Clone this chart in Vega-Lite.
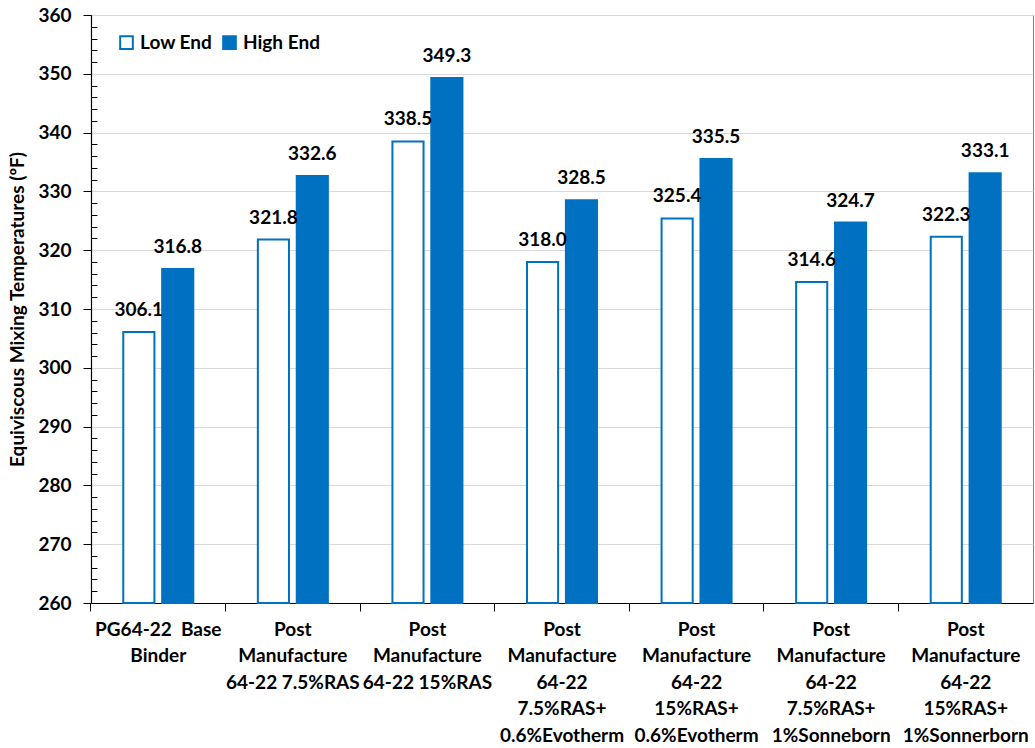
{
  "$schema": "https://vega.github.io/schema/vega-lite/v6.json",
  "autosize": "none",
  "width": 942,
  "height": 588,
  "padding": {"left": 91, "top": 15, "right": 2, "bottom": 145},
  "background": "white",
  "config": {
    "font": "Lato",
    "view": {"stroke": "#808080", "strokeWidth": 1}
  },
  "data": {
    "values": [
      {"cat": "PG64-22\u00a0\u00a0Base|Binder", "series": "Low End", "temp": 306.1},
      {"cat": "PG64-22\u00a0\u00a0Base|Binder", "series": "High End", "temp": 316.8},
      {"cat": "Post|Manufacture|64-22 7.5%RAS", "series": "Low End", "temp": 321.8},
      {"cat": "Post|Manufacture|64-22 7.5%RAS", "series": "High End", "temp": 332.6},
      {"cat": "Post|Manufacture|64-22 15%RAS", "series": "Low End", "temp": 338.5},
      {"cat": "Post|Manufacture|64-22 15%RAS", "series": "High End", "temp": 349.3},
      {"cat": "Post|Manufacture|64-22|7.5%RAS+|0.6%Evotherm", "series": "Low End", "temp": 318.0},
      {"cat": "Post|Manufacture|64-22|7.5%RAS+|0.6%Evotherm", "series": "High End", "temp": 328.5},
      {"cat": "Post|Manufacture|64-22|15%RAS+|0.6%Evotherm", "series": "Low End", "temp": 325.4},
      {"cat": "Post|Manufacture|64-22|15%RAS+|0.6%Evotherm", "series": "High End", "temp": 335.5},
      {"cat": "Post|Manufacture|64-22|7.5%RAS+|1%Sonneborn", "series": "Low End", "temp": 314.6},
      {"cat": "Post|Manufacture|64-22|7.5%RAS+|1%Sonneborn", "series": "High End", "temp": 324.7},
      {"cat": "Post|Manufacture|64-22|15%RAS+|1%Sonnerborn", "series": "Low End", "temp": 322.3},
      {"cat": "Post|Manufacture|64-22|15%RAS+|1%Sonnerborn", "series": "High End", "temp": 333.1}
    ]
  },
  "encoding": {
    "x": {
      "field": "cat",
      "type": "nominal",
      "sort": null,
      "scale": {"paddingInner": 0, "paddingOuter": 0},
      "axis": {
        "title": null,
        "labelExpr": "split(datum.label, '|')",
        "labelAngle": 0,
        "labelFontSize": 19,
        "labelFontWeight": "bold",
        "labelColor": "#000000",
        "labelLineHeight": 26.5,
        "labelLimit": 0,
        "labelPadding": 9,
        "labelBaseline": "top",
        "bandPosition": 0,
        "tickSize": 8,
        "tickColor": "#000000",
        "domainColor": "#000000",
        "domainWidth": 1.2,
        "grid": false
      }
    },
    "xOffset": {
      "field": "series",
      "type": "nominal",
      "sort": ["Low End", "High End"],
      "scale": {"paddingInner": 0.2, "paddingOuter": 0.83}
    },
    "y": {
      "field": "temp",
      "type": "quantitative",
      "scale": {"domain": [260, 360], "zero": false, "nice": false},
      "axis": {
        "title": "Equiviscous Mixing Temperatures (ºF)",
        "titleFontSize": 19,
        "titleFontWeight": "bold",
        "titleColor": "#000000",
        "titlePadding": 10,
        "values": [260,262,264,266,268,270,272,274,276,278,280,282,284,286,288,290,292,294,296,298,300,302,304,306,308,310,312,314,316,318,320,322,324,326,328,330,332,334,336,338,340,342,344,346,348,350,352,354,356,358,360],
        "labelExpr": "datum.value % 10 === 0 ? datum.label : ''",
        "labelFontSize": 19,
        "labelFontWeight": "bold",
        "labelColor": "#000000",
        "labelPadding": 12,
        "ticks": true,
        "tickSize": 8,
        "tickWidth": 1,
        "tickColor": "#000000",
        "tickOpacity": {"condition": {"test": "datum.value % 10 === 0", "value": 1}, "value": 0},
        "domainColor": "#000000",
        "domainWidth": 1.2,
        "grid": true,
        "gridWidth": 1,
        "gridColor": {"condition": {"test": "datum.value % 10 === 0", "value": "#d9d9d9"}, "value": "#000000"},
        "gridDash": {"condition": {"test": "datum.value % 10 === 0", "value": []}, "value": [6, 3000]}
      }
    }
  },
  "layer": [
    {
      "mark": {"type": "bar", "stroke": "#0070C0", "strokeWidth": 2},
      "encoding": {
        "y2": {"datum": 260},
        "fill": {
          "field": "series",
          "type": "nominal",
          "sort": ["Low End", "High End"],
          "scale": {"domain": ["Low End", "High End"], "range": ["#ffffff", "#0070C0"]},
          "legend": {
            "title": null,
            "orient": "none",
            "legendX": 26,
            "legendY": 18,
            "direction": "horizontal",
            "symbolType": "square",
            "symbolSize": 160,
            "symbolStrokeColor": "#0070C0",
            "symbolStrokeWidth": 2,
            "labelFontSize": 19,
            "labelFontWeight": "bold",
            "labelColor": "#000000",
            "labelOffset": 4,
            "columnPadding": 6
          }
        }
      }
    },
    {
      "mark": {"type": "text", "dy": -12, "baseline": "bottom", "fontSize": 19, "fontWeight": "bold", "color": "#000000"},
      "encoding": {
        "text": {"field": "temp", "type": "quantitative", "format": ".1f"}
      }
    }
  ]
}
